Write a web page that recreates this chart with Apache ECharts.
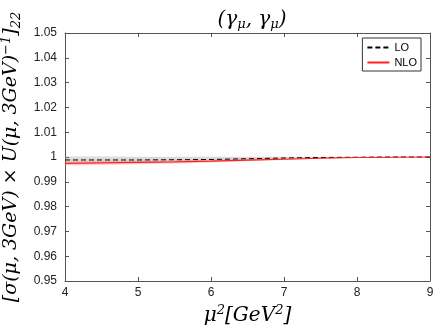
<!DOCTYPE html>
<html>
<head>
<meta charset="utf-8">
<script src="https://cdn.jsdelivr.net/npm/echarts@6/dist/echarts.min.js"></script>
<style>
  html, body { margin: 0; padding: 0; background: #fff; }
  #chart { width: 436px; height: 327px; }
</style>
</head>
<body>
<div id="chart"></div>
<script>
// mu^2 values along the x axis
var muSq = [4, 4.5, 5, 5.5, 6, 6.5, 7, 7.5, 8, 8.5, 9];
// LO central line and its band
var loMid = [0.9988, 0.9988, 0.9988, 0.9989, 0.9990, 0.9993, 0.9996, 0.9998, 0.9999, 1.0000, 1.0000];
var loLow = [0.9977, 0.9978, 0.9979, 0.9981, 0.9983, 0.9987, 0.9991, 0.9995, 0.9997, 0.9999, 1.0000];
var loHigh = [1.0002, 1.0002, 1.0001, 1.0001, 1.0001, 1.0001, 1.0001, 1.0001, 1.0000, 1.0000, 1.0000];
// NLO central line and its band
var nloMid = [0.9974, 0.9976, 0.9978, 0.9980, 0.9983, 0.9987, 0.9991, 0.9995, 0.9998, 0.9999, 1.0000];
var nloLow = [0.9966, 0.9968, 0.9971, 0.9974, 0.9978, 0.9983, 0.9988, 0.9993, 0.9997, 0.9999, 1.0000];
var nloHigh = [0.9983, 0.9984, 0.9985, 0.9987, 0.9989, 0.9992, 0.9995, 0.9997, 0.9999, 1.0000, 1.0000];
var xTicks = [4, 5, 6, 7, 8, 9];

function pairs(ys) {
  return muSq.map(function (x, i) { return [x, ys[i]]; });
}
function bandRows(lo, hi) {
  return muSq.map(function (x, i) { return [x, lo[i], hi[i]]; });
}
// draw the whole band as one polygon, using the axes to place the points
function bandRenderer(lo, hi, fill) {
  return function (params, api) {
    if (params.dataIndex !== 0) return null;
    var upper = muSq.map(function (x, i) { return api.coord([x, hi[i]]); });
    var lower = muSq.map(function (x, i) { return api.coord([x, lo[i]]); }).reverse();
    return {
      type: 'polygon',
      shape: { points: upper.concat(lower) },
      style: { fill: fill, stroke: null }
    };
  };
}

var axisColor = '#555';
var serif = '"DejaVu Serif", "Liberation Serif", serif';
var sans = '"Liberation Sans", Arial, sans-serif';

var chart = echarts.init(document.getElementById('chart'));
chart.setOption({
  animation: false,
  backgroundColor: '#fff',
  title: {
    text: '(γ{s|μ}, γ{s|μ})',
    left: 247, top: 4, textAlign: 'center',
    textStyle: {
      fontFamily: serif, fontStyle: 'italic', fontWeight: 'normal', fontSize: 20, color: '#000',
      rich: { s: { fontFamily: serif, fontStyle: 'italic', fontSize: 13, verticalAlign: 'bottom', padding: [9, 0, 0, 0] } }
    }
  },
  legend: {
    data: ['LO', 'NLO'],
    orient: 'vertical',
    right: 15, top: 38,
    itemWidth: 22, itemHeight: 8, itemGap: 4,
    padding: [4, 4, 3, 4],
    borderColor: '#333', borderWidth: 1,
    itemStyle: { opacity: 0 },
    textStyle: { fontFamily: sans, fontSize: 11, color: '#000' }
  },
  grid: { left: 65, right: 6, top: 33, bottom: 46, containLabel: false, outerBoundsMode: 'none' },
  xAxis: [{
    type: 'value', min: 4, max: 9, interval: 1,
    name: 'μ{sup|2}[GeV{sup|2}]', nameLocation: 'middle', nameGap: 20,
    nameTextStyle: {
      fontFamily: serif, fontStyle: 'italic', fontSize: 20, color: '#000',
      rich: { sup: { fontFamily: serif, fontSize: 13, verticalAlign: 'top', padding: [0, 0, 10, 0] } }
    },
    axisLine: { lineStyle: { color: axisColor } },
    axisTick: { inside: true, length: 4, lineStyle: { color: axisColor } },
    axisLabel: {
      margin: 6, color: '#222', fontSize: 12, fontFamily: sans,
      customValues: xTicks
    },
    splitLine: { show: false }
  }, {
    type: 'value', min: 4, max: 9, interval: 1, position: 'top',
    axisLine: { show: true, lineStyle: { color: axisColor } },
    axisTick: { inside: true, length: 4, lineStyle: { color: axisColor } },
    axisLabel: { show: false },
    splitLine: { show: false }
  }],
  yAxis: [{
    type: 'value', min: 0.95, max: 1.05, interval: 0.01,
    name: '[σ(μ, 3GeV) × U(μ, 3GeV){sup|−1}]{sub|22}',
    nameLocation: 'middle', nameGap: 40,
    nameTextStyle: {
      fontFamily: serif, fontStyle: 'italic', fontSize: 19, color: '#000',
      rich: {
        sup: { fontFamily: serif, fontSize: 13, verticalAlign: 'top', padding: [0, 0, 10, 0] },
        sub: { fontFamily: serif, fontSize: 13, verticalAlign: 'bottom', padding: [8, 0, 0, 0] }
      }
    },
    axisLine: { show: true, lineStyle: { color: axisColor } },
    axisTick: { inside: true, length: 4, lineStyle: { color: axisColor } },
    axisLabel: {
      margin: 8, color: '#222', fontSize: 12, fontFamily: sans,
      formatter: function (v) { return String(parseFloat(v.toFixed(2))); }
    },
    splitLine: { show: false }
  }, {
    type: 'value', min: 0.95, max: 1.05, interval: 0.01, position: 'right',
    axisLine: { show: true, lineStyle: { color: axisColor } },
    axisTick: { inside: true, length: 4, lineStyle: { color: axisColor } },
    axisLabel: { show: false },
    splitLine: { show: false }
  }],
  series: [
    {
      name: 'loBand', type: 'custom', data: bandRows(loLow, loHigh), silent: true,
      encode: { x: 0, y: [1, 2] },
      renderItem: bandRenderer(loLow, loHigh, 'rgba(150,150,150,0.35)')
    },
    {
      name: 'nloBand', type: 'custom', data: bandRows(nloLow, nloHigh), silent: true,
      encode: { x: 0, y: [1, 2] },
      renderItem: bandRenderer(nloLow, nloHigh, 'rgba(255,90,90,0.3)')
    },
    {
      name: 'LO', type: 'line', data: pairs(loMid), symbol: 'none',
      itemStyle: { color: '#000' },
      lineStyle: { color: '#000', width: 1, type: [5, 3] }
    },
    {
      name: 'NLO', type: 'line', data: pairs(nloMid), symbol: 'none',
      itemStyle: { color: '#ff2020' },
      lineStyle: { color: '#ff2020', width: 1.2 }
    }
  ]
});
</script>
</body>
</html>
